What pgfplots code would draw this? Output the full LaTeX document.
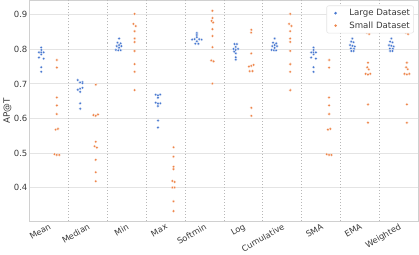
\documentclass[border=0pt]{standalone}
\usepackage{fontspec}
\setmainfont{DejaVu Sans}
\usepackage{pgfplots}
\pgfplotsset{compat=1.18}
\definecolor{cblue}{HTML}{4878D0}
\definecolor{corange}{HTML}{EE854A}
\definecolor{gridc}{HTML}{E4E4E4}
\definecolor{spine}{HTML}{D0D0D0}
\definecolor{sepc}{HTML}{B8B8B8}
\definecolor{txt}{HTML}{3A3A3A}
\pgfplotsset{myleg/.style={legend image code/.code={%
  \path[draw=none, fill=none] (0cm,-0.5pt) rectangle (0.67cm,0.5pt);
  \fill[draw=none, fill=#1] (0.26cm,0cm) circle (1.45pt);}}}
\begin{document}
\begin{tikzpicture}
\begin{axis}[
  scale only axis, width=388pt, height=220pt,
  xmin=-0.5, xmax=9.5, ymin=0.3045, ymax=0.941,
  xtick={0,...,9},
  xticklabels={Mean,Median,Min,Max,Softmin,Log,Cumulative,SMA,EMA,Weighted},
  xticklabel style={rotate=30, anchor=north east, font=\fontsize{8.3}{9}\selectfont, text=txt, inner sep=1.5pt},
  ytick={0.4,0.5,0.6,0.7,0.8,0.9},
  yticklabel style={font=\fontsize{8.5}{9}\selectfont, text=txt, inner sep=2pt, /pgf/number format/.cd, fixed, precision=1, fixed zerofill, assume math mode=true},
  ylabel={AP@T},
  ylabel style={font=\fontsize{8.8}{10}\selectfont, text=txt, yshift=-3pt},
  major tick length=0pt,
  axis line style={spine, line width=0.8pt},
  ymajorgrids, major grid style={gridc, line width=0.9pt},
  legend style={at={(0.988,0.977)}, anchor=north east, draw=gridc, line width=0.6pt, rounded corners=2pt,
    font=\fontsize{8.6}{9}\selectfont, text=txt, row sep=0.5pt, inner sep=1.5pt,
    nodes={inner sep=2pt}},
  legend cell align=left,
]
\pgfplotsinvokeforeach{0.5,1.5,2.5,3.5,4.5,5.5,6.5,7.5,8.5}{
  \draw[sepc, dotted, line width=1pt] (axis cs:#1,0.3045) -- (axis cs:#1,0.941);
}
\addplot[only marks, mark=*, mark size=1.45pt, color=cblue, fill=cblue, mark options={draw=white, line width=0.2pt, fill=cblue}, myleg=cblue] table[x=x, y=y] {
x y
-0.20 0.805
-0.20 0.798
-0.26 0.791
-0.20 0.791
-0.14 0.791
-0.20 0.785
-0.26 0.776
-0.14 0.773
-0.20 0.748
-0.20 0.735
0.74 0.711
0.86 0.706
0.80 0.704
0.86 0.702
0.86 0.689
0.80 0.686
0.74 0.683
0.80 0.677
0.80 0.644
0.80 0.628
1.80 0.831
1.76 0.819
1.84 0.817
1.80 0.812
1.74 0.809
1.86 0.809
1.80 0.804
1.72 0.798
1.78 0.797
1.84 0.797
2.74 0.669
2.86 0.669
2.80 0.667
2.80 0.660
2.74 0.646
2.86 0.644
2.80 0.643
2.80 0.636
2.80 0.594
2.80 0.574
3.80 0.847
3.80 0.841
3.80 0.835
3.68 0.828
3.74 0.829
3.86 0.829
3.92 0.828
3.80 0.823
3.76 0.816
3.84 0.816
4.77 0.815
4.83 0.815
4.80 0.807
4.74 0.801
4.86 0.801
4.80 0.798
4.76 0.793
4.80 0.788
4.80 0.777
4.80 0.770
5.80 0.831
5.76 0.819
5.84 0.817
5.80 0.812
5.74 0.809
5.86 0.809
5.80 0.804
5.72 0.798
5.78 0.797
5.84 0.797
6.80 0.805
6.80 0.798
6.74 0.791
6.80 0.791
6.86 0.791
6.80 0.785
6.74 0.776
6.86 0.773
6.80 0.748
6.80 0.735
7.80 0.831
7.77 0.822
7.83 0.820
7.74 0.812
7.80 0.810
7.86 0.808
7.76 0.802
7.84 0.801
7.77 0.795
7.83 0.795
8.80 0.831
8.77 0.822
8.83 0.820
8.74 0.812
8.80 0.810
8.86 0.808
8.76 0.802
8.84 0.801
8.77 0.795
8.83 0.795
};
\addlegendentry{Large Dataset}
\addplot[only marks, mark=*, mark size=1.45pt, color=corange, fill=corange, mark options={draw=white, line width=0.2pt, fill=corange}, myleg=corange] table[x=x, y=y] {
x y
0.20 0.769
0.20 0.747
0.20 0.661
0.20 0.638
0.20 0.613
0.17 0.568
0.23 0.570
0.14 0.497
0.20 0.495
0.26 0.495
1.20 0.698
1.14 0.610
1.20 0.608
1.26 0.612
1.20 0.533
1.17 0.520
1.23 0.516
1.20 0.481
1.20 0.445
1.20 0.419
2.20 0.902
2.17 0.873
2.23 0.867
2.20 0.852
2.20 0.831
2.20 0.821
2.20 0.795
2.20 0.757
2.20 0.735
2.20 0.682
3.20 0.517
3.20 0.490
3.20 0.461
3.20 0.454
3.17 0.420
3.23 0.417
3.17 0.401
3.23 0.401
3.20 0.361
3.20 0.333
4.20 0.911
4.20 0.890
4.18 0.882
4.22 0.877
4.20 0.858
4.20 0.838
4.20 0.806
4.17 0.768
4.23 0.765
4.20 0.701
5.20 0.856
5.20 0.848
5.20 0.788
5.26 0.755
5.20 0.752
5.14 0.750
5.16 0.737
5.23 0.737
5.20 0.631
5.20 0.608
6.20 0.902
6.17 0.873
6.23 0.867
6.20 0.852
6.20 0.831
6.20 0.821
6.20 0.795
6.20 0.757
6.20 0.735
6.20 0.682
7.20 0.769
7.20 0.747
7.20 0.661
7.20 0.638
7.20 0.613
7.17 0.568
7.23 0.570
7.14 0.497
7.20 0.495
7.26 0.495
8.17 0.848
8.23 0.844
8.20 0.761
8.18 0.748
8.22 0.742
8.14 0.729
8.20 0.727
8.26 0.729
8.20 0.641
8.20 0.588
9.17 0.848
9.23 0.844
9.20 0.761
9.18 0.748
9.22 0.742
9.14 0.729
9.20 0.727
9.26 0.729
9.20 0.641
9.20 0.588
};
\addlegendentry{Small Dataset}
\end{axis}
\end{tikzpicture}
\end{document}
